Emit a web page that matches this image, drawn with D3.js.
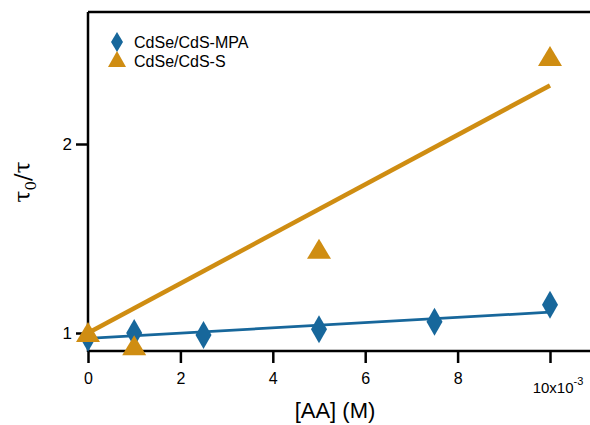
<!DOCTYPE html>
<html>
<head>
<meta charset="utf-8">
<script src="https://cdn.jsdelivr.net/npm/d3@7"></script>
<style>
  body { margin: 0; background: #fff; }
  svg { font-family: "Liberation Sans", Arial, sans-serif; }
</style>
</head>
<body>
<svg id="chart" width="590" height="425"></svg>
<script>
// data
const concAA = [0, 1, 2.5, 5, 7.5, 10]           // x10^-3 M
const mpaRatio = [0.975, 1.0, 0.99, 1.02, 1.06, 1.15]
const sConc = [0, 1, 5, 10]
const sRatio = [1.0, 0.93, 1.44, 2.46]
// linear fits (value at x=0 and x=10)
const fitX = [0, 10]
const mpaFit = [0.972, 1.11]
const sFit = [1.0, 2.31]
const xTicks = [0, 2, 4, 6, 8, 10]
const yTicks = [1, 2]

const blue = '#17679b'
const orange = '#cf8d12'

const margin = { left: 88, top: 12 }
const size = { width: 590, height: 425 }
const yBottom = 351

const svg = d3.select('#chart')

const x = d3.scaleLinear()
    .domain([0, 10])
    .range([margin.left, 550])

const y = d3.scaleLinear()
    .domain([1, 2])
    .range([333, 144])

// frame: top line
svg.append('line')
    .attr('x1', margin.left).attr('x2', size.width + 5)
    .attr('y1', margin.top).attr('y2', margin.top)
    .attr('stroke', '#000').attr('stroke-width', 2.5)

const xAxis = svg.append('g')
    .attr('transform', `translate(0,${yBottom})`)
    .call(d3.axisBottom(x).tickValues(xTicks).tickSize(12).tickSizeOuter(0)
        .tickFormat(d => d === 10 ? '' : d))
xAxis.select('.domain').remove()
xAxis.append('line')
    .attr('x1', margin.left).attr('x2', size.width + 5)
    .attr('stroke', '#000').attr('stroke-width', 2.5)
xAxis.selectAll('.tick line').attr('stroke-width', 2.5)
xAxis.selectAll('.tick text')
    .attr('font-size', 16).attr('fill', '#000').attr('y', 22)
    .attr('font-family', '"Liberation Sans", Arial, sans-serif')

// last tick label with exponent
const lastLabel = svg.append('text')
    .attr('x', x(10) + 8).attr('y', 393)
    .attr('text-anchor', 'middle')
    .attr('font-size', 15)
lastLabel.append('tspan').text('10x10')
lastLabel.append('tspan').attr('dy', -8).attr('font-size', 11).text('-3')

const yAxis = svg.append('g')
    .attr('transform', `translate(${margin.left},0)`)
    .call(d3.axisLeft(y).tickValues(yTicks).tickSize(12).tickSizeOuter(0).tickFormat(d3.format('d')))
yAxis.select('.domain').remove()
yAxis.append('line')
    .attr('y1', margin.top).attr('y2', yBottom + 1)
    .attr('stroke', '#000').attr('stroke-width', 2.5)
yAxis.selectAll('.tick line').attr('stroke-width', 2.5)
yAxis.selectAll('.tick text')
    .attr('font-size', 17).attr('fill', '#000').attr('x', -16)
    .attr('font-family', '"Liberation Sans", Arial, sans-serif')

// axis titles
svg.append('text')
    .attr('x', 335).attr('y', 418)
    .attr('text-anchor', 'middle')
    .attr('font-size', 22)
    .text('[AA] (M)')

const yTitle = svg.append('text')
    .attr('transform', `translate(30,182) rotate(-90)`)
    .attr('text-anchor', 'middle')
    .attr('font-size', 22)
    .attr('font-family', '"DejaVu Serif", "Liberation Serif", serif')
yTitle.append('tspan').text('τ')
yTitle.append('tspan').attr('dy', 6).attr('font-size', 15).text('0')
yTitle.append('tspan').attr('dy', -6).text('/τ')

const line = d3.line()
    .x((d, i) => x(fitX[i]))
    .y(d => y(d))

// fit lines
svg.append('path')
    .attr('d', line(sFit))
    .attr('fill', 'none').attr('stroke', orange).attr('stroke-width', 4.5)
svg.append('path')
    .attr('d', line(mpaFit))
    .attr('fill', 'none').attr('stroke', blue).attr('stroke-width', 2.8)

const diamond = 'M0,-14 L8,0 L0,14 L-8,0 Z'
const triangle = 'M0,-11 L12,9 L-12,9 Z'

svg.append('g').selectAll('path')
    .data(concAA)
    .join('path')
    .attr('d', diamond)
    .attr('fill', blue)
    .attr('transform', (d, i) => `translate(${x(d)},${y(mpaRatio[i])})`)

svg.append('g').selectAll('path')
    .data(sConc)
    .join('path')
    .attr('d', triangle)
    .attr('fill', orange)
    .attr('transform', (d, i) => `translate(${x(d)},${y(sRatio[i])})`)

// legend
const legend = svg.append('g').attr('transform', 'translate(117,42)')
legend.append('path').attr('d', 'M0,-10 L6,0 L0,10 L-6,0 Z').attr('fill', blue)
legend.append('text').attr('x', 17).attr('y', 6).attr('font-size', 16).text('CdSe/CdS-MPA')
legend.append('path').attr('d', 'M0,-9 L9,7 L-9,7 Z').attr('transform', 'translate(0,18)').attr('fill', orange)
legend.append('text').attr('x', 17).attr('y', 25).attr('font-size', 16).text('CdSe/CdS-S')
</script>
</body>
</html>
